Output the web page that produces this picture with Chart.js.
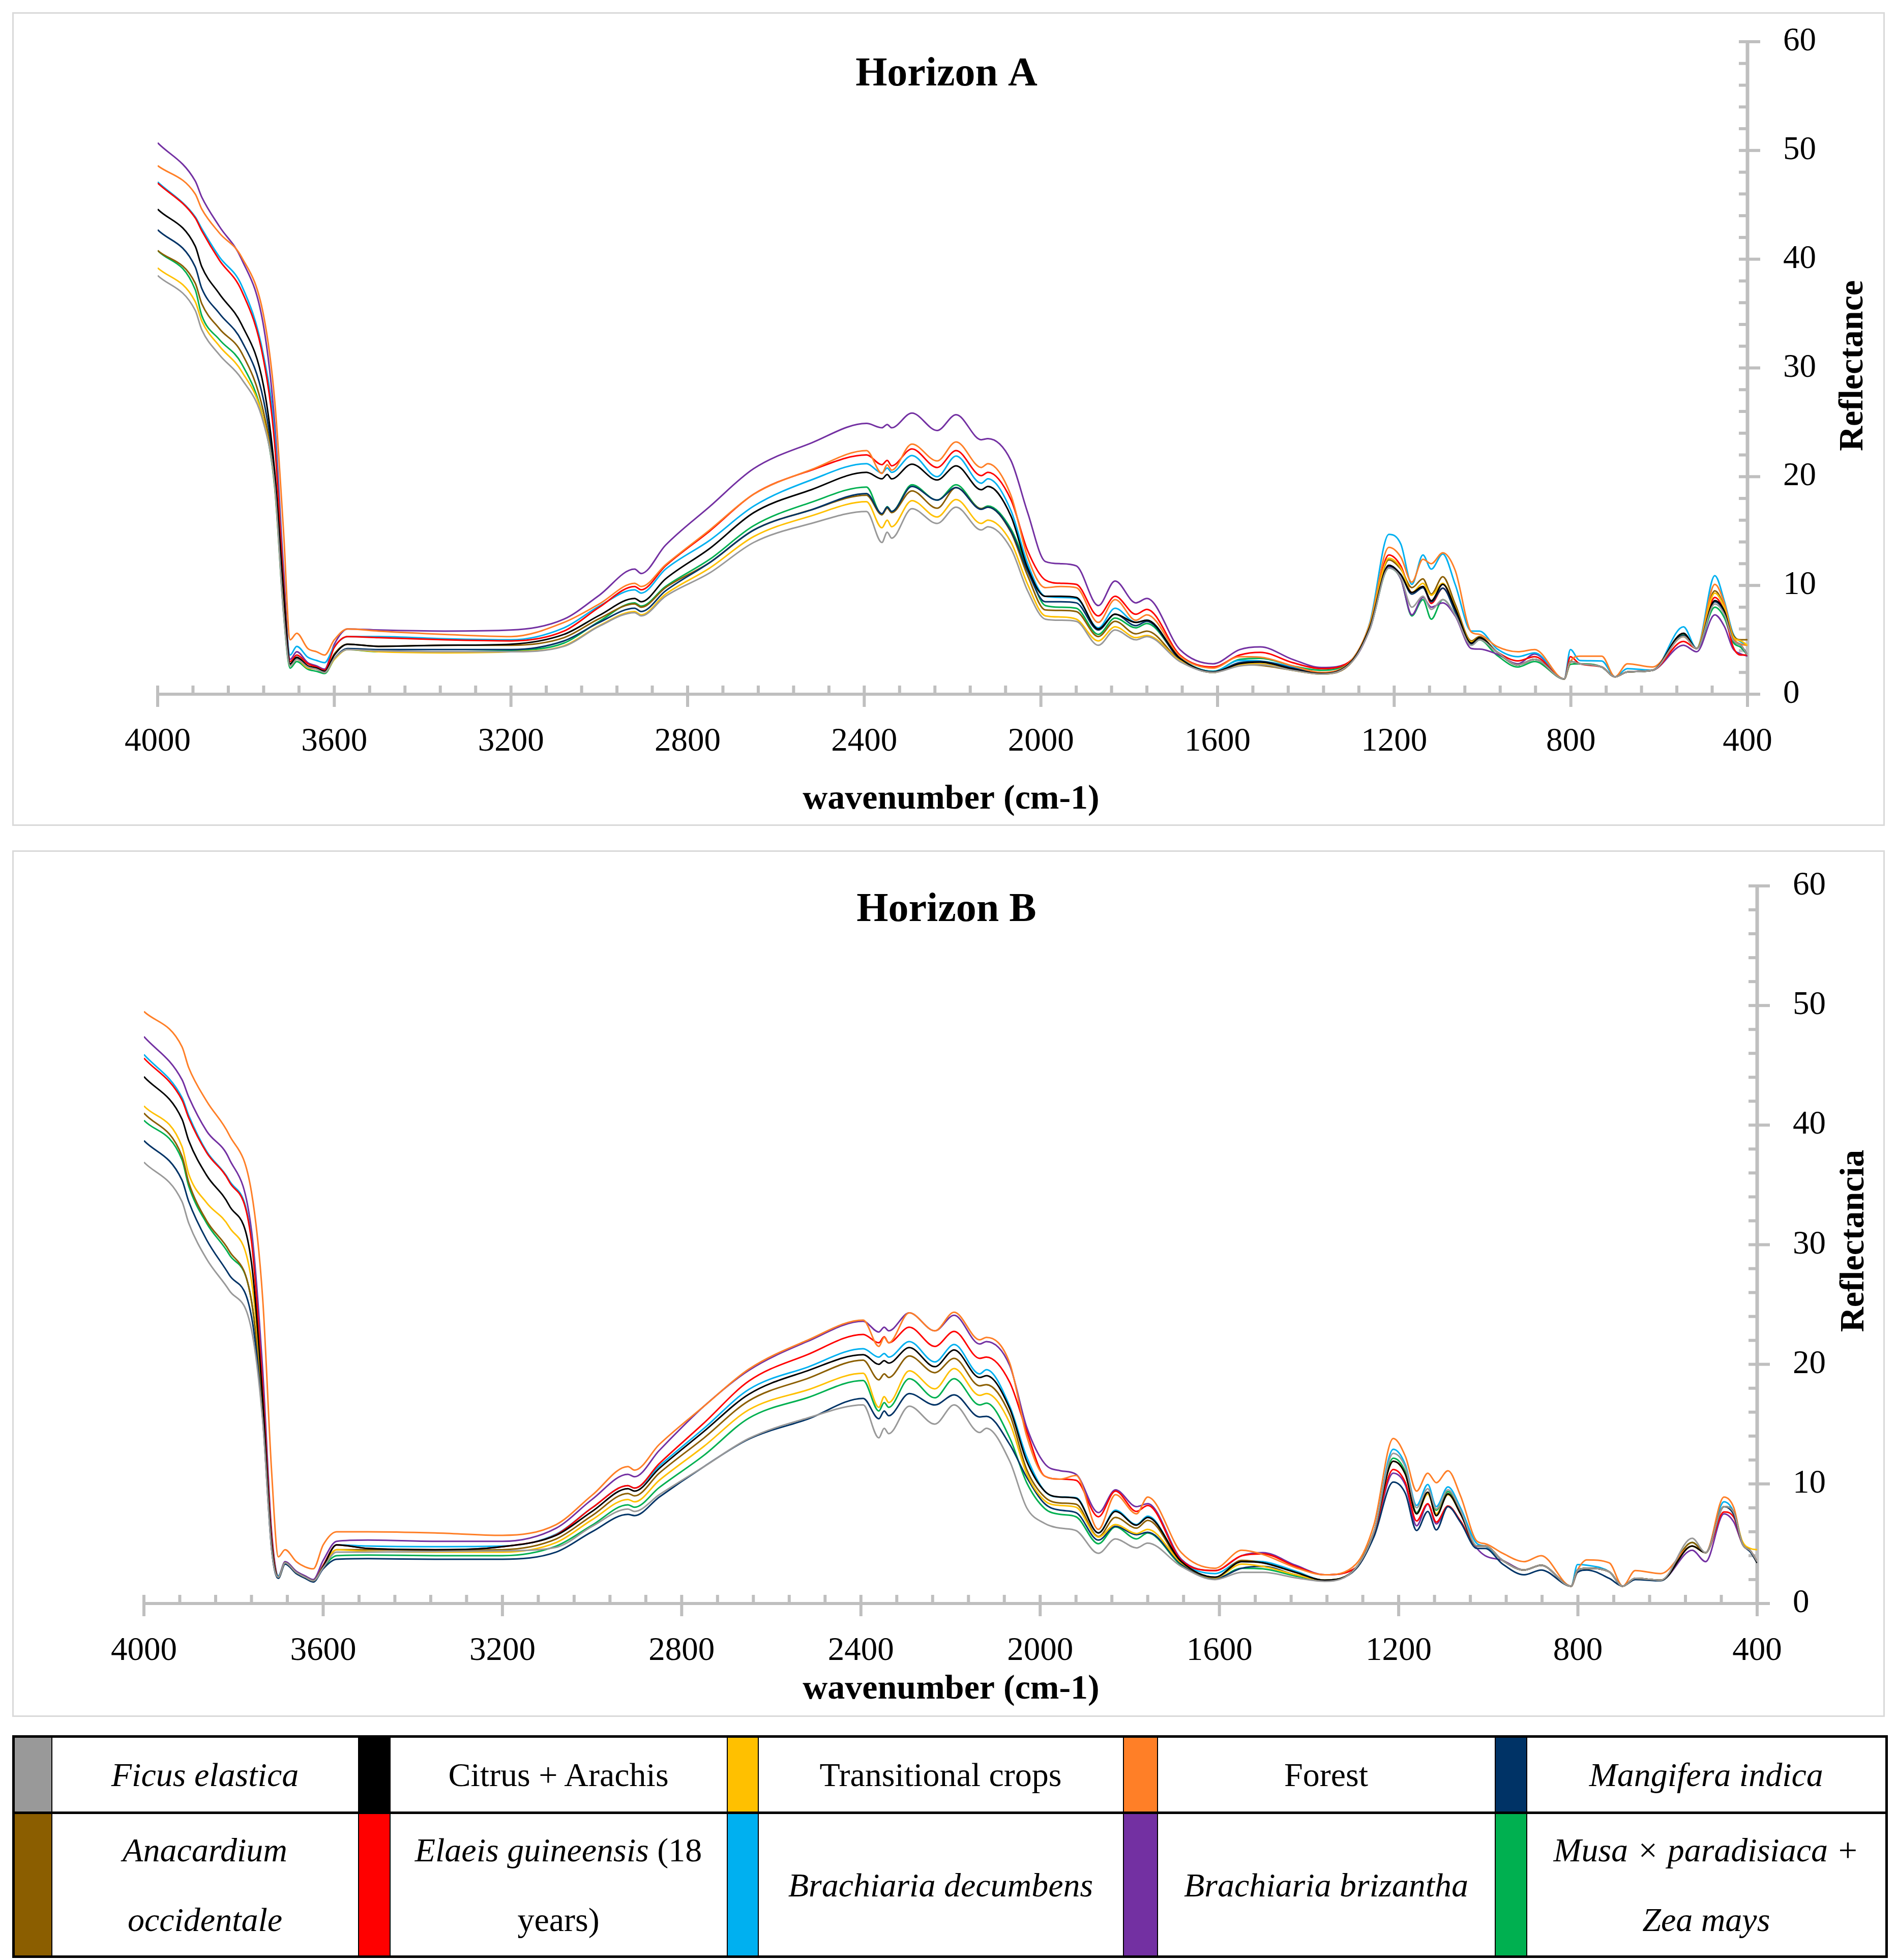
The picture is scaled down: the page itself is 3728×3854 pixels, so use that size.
<!DOCTYPE html>
<html>
<head>
<meta charset="utf-8">
<script src="https://cdn.jsdelivr.net/npm/chart.js@4.4.1/dist/chart.umd.min.js"></script>
<style>
  html, body { margin: 0; padding: 0; background: #fff; }
  body { width: 3728px; height: 3854px; position: relative; overflow: hidden; font-family: "Liberation Serif", serif; }
  .panel { position: absolute; left: 24px; width: 3682px; border: 3px solid #d9d9d9; box-sizing: border-box; background: #fff; }
  #panelA { top: 24px; height: 1600px; }
  #panelB { top: 1672px; height: 1704px; }
  .panel canvas { display: block; }
  #legend { position: absolute; left: 24px; top: 3412px; width: 3683px; border-collapse: collapse; table-layout: fixed; border: 5px solid #000; }
  #legend td { border: 2px solid #000; padding: 0; text-align: center; font-size: 66px; color: #000; }
  #legend tr.r1 { height: 150px; }
  #legend tr.r2 { height: 283px; }
  #legend tr.r2 td { line-height: 137px; }
  #legend tr.r1 { border-bottom: 5px solid #000; }
</style>
</head>
<body>
<div class="panel" id="panelA"><canvas id="chartA" width="3676" height="1594"></canvas></div>
<div class="panel" id="panelB"><canvas id="chartB" width="3676" height="1698"></canvas></div>
<table id="legend"></table>
<script>
// wavenumber (cm-1), shared by both horizons
const wavenumber = [
  4000, 3915, 3900, 3860, 3810, 3760, 3735, 3715, 3700, 3685,
  3660, 3640, 3622, 3600, 3570, 3500, 3350, 3200, 3080, 3000,
  2920, 2905, 2850, 2750, 2650, 2520, 2395, 2360, 2348, 2338,
  2292, 2235, 2192, 2135, 2120, 2068, 2030, 1990, 1955, 1920,
  1870, 1832, 1785, 1760, 1685, 1610, 1550, 1503, 1430, 1365,
  1295, 1255, 1212, 1185, 1160, 1135, 1116, 1090, 1062, 1025,
  1007, 968, 920, 882, 815, 801, 780, 730, 700, 672,
  615, 545, 515, 474, 452, 433, 415, 400
];

const xTicks = [4000, 3600, 3200, 2800, 2400, 2000, 1600, 1200, 800, 400];
const yTicks = [0, 10, 20, 30, 40, 50, 60];

const seriesNames = ['Ficus elastica', 'Citrus + Arachis', 'Transitional crops', 'Forest', 'Mangifera indica',
  'Anacardium occidentale', 'Elaeis guineensis (18 years)', 'Brachiaria decumbens', 'Brachiaria brizantha', 'Musa × paradisiaca + Zea mays'];
const seriesColors = ['#999999', '#000000', '#ffc000', '#ff7f27', '#003366',
  '#8b5e00', '#ff0000', '#00b0f0', '#7330a2', '#00b050'];

// Horizon A reflectance
const ficusA = [
  38.5, 35.3, 33.5, 31.2, 29.0, 24.9, 19.2, 7.5, 2.6, 3.2,
  2.5, 2.3, 2.0, 3.3, 4.1, 4.0, 3.9, 3.9, 4.4, 6.25,
  7.5, 7.2, 9.0, 11.15, 13.96, 15.7, 16.8, 13.95, 14.9, 14.35,
  17.06, 15.7, 17.2, 15.1, 15.4, 13.4, 9.5, 6.9, 6.8, 6.7,
  4.5, 5.9, 5.0, 5.3, 3.0, 2.0, 2.6, 2.7, 2.2, 1.85,
  3.0, 6.0, 11.6, 10.7, 8.0, 9.0, 7.8, 8.7, 7.3, 4.5,
  5.0, 3.9, 2.7, 3.2, 1.4, 3.0, 2.8, 2.5, 1.6, 2.05,
  2.2, 5.3, 4.2, 8.3, 7.3, 5.0, 4.5, 3.6
];
const citrusA = [
  44.6, 41.2, 39.3, 36.8, 34.0, 28.3, 20.5, 9.5, 2.8, 3.4,
  2.6, 2.4, 2.1, 3.6, 4.6, 4.4, 4.5, 4.6, 5.5, 7.25,
  8.8, 8.5, 10.6, 13.4, 16.7, 18.8, 20.4, 19.8, 20.2, 19.8,
  21.15, 19.7, 21.0, 18.8, 19.1, 16.4, 11.6, 9.0, 9.0, 8.9,
  6.0, 7.35, 6.6, 6.8, 3.3, 2.05, 2.8, 2.95, 2.3, 1.9,
  3.1, 6.2, 11.85, 11.0, 9.35, 9.9, 8.6, 10.1, 7.9, 4.7,
  5.2, 3.9, 2.7, 3.2, 1.4, 3.0, 2.8, 2.5, 1.6, 2.05,
  2.2, 5.6, 4.2, 8.6, 7.6, 5.0, 4.5, 3.6
];
const transitionalA = [
  39.2, 36.1, 34.3, 32.0, 29.7, 25.2, 19.2, 7.8, 2.6, 3.2,
  2.4, 2.3, 2.0, 3.2, 4.1, 3.9, 3.8, 3.9, 4.45, 6.3,
  7.6, 7.3, 9.2, 11.6, 14.5, 16.4, 17.7, 15.3, 16.0, 15.4,
  17.8, 16.3, 17.9, 15.7, 16.0, 14.0, 10.1, 7.2, 7.1, 6.9,
  4.9, 6.2, 5.2, 5.4, 3.1, 2.0, 2.7, 2.8, 2.2, 1.85,
  3.1, 6.3, 12.5, 11.6, 9.35, 10.2, 9.1, 10.2, 8.0, 4.8,
  5.2, 3.9, 2.7, 3.2, 1.4, 3.0, 2.8, 2.5, 1.6, 2.05,
  2.2, 5.3, 4.2, 9.3, 7.9, 5.3, 4.9, 4.5
];
const forestA = [
  48.6, 46.0, 44.6, 42.4, 40.2, 34.8, 27.0, 15.0, 5.0, 5.6,
  4.2, 3.9, 3.6, 5.0, 6.0, 5.8, 5.5, 5.3, 6.6, 8.3,
  10.2, 9.9, 11.9, 15.1, 18.4, 20.65, 22.4, 20.3, 21.1, 20.6,
  23.0, 21.45, 23.2, 20.85, 21.2, 18.3, 12.6, 9.8, 9.9, 9.8,
  6.6, 8.7, 6.8, 7.3, 3.5, 2.4, 3.45, 3.4, 2.6, 2.0,
  3.2, 6.5, 13.5, 12.6, 10.3, 12.4, 12.0, 13.0, 11.4, 5.7,
  5.5, 4.4, 3.9, 4.1, 1.4, 3.0, 3.5, 3.5, 1.6, 2.8,
  2.5, 5.3, 4.2, 10.1, 8.3, 5.3, 4.6, 4.5
];
const mangiferaA = [
  42.7, 39.3, 37.3, 35.0, 32.5, 27.0, 20.0, 8.5, 2.7, 3.3,
  2.5, 2.3, 2.0, 3.3, 4.2, 4.1, 4.1, 4.1, 4.9, 6.6,
  7.9, 7.6, 9.5, 12.1, 15.1, 16.95, 18.45, 16.6, 17.2, 16.8,
  19.1, 17.85, 19.0, 17.0, 17.2, 15.0, 11.3, 8.5, 8.5, 8.4,
  5.9, 7.35, 6.3, 6.7, 3.2, 2.0, 2.9, 3.0, 2.4, 1.9,
  3.1, 6.2, 11.8, 11.0, 9.2, 9.8, 8.5, 9.75, 7.6, 4.6,
  5.1, 3.9, 2.7, 3.2, 1.4, 3.0, 2.8, 2.5, 1.6, 2.05,
  2.2, 5.4, 4.2, 8.5, 7.5, 5.0, 4.5, 3.6
];
const anacardiumA = [
  40.8, 37.8, 35.9, 33.6, 31.4, 25.9, 19.5, 8.5, 2.7, 3.3,
  2.5, 2.3, 2.0, 3.7, 4.6, 4.4, 4.5, 4.5, 5.2, 6.95,
  8.3, 8.0, 9.8, 12.1, 15.1, 16.95, 18.3, 16.5, 17.1, 16.7,
  18.7, 17.1, 19.0, 17.06, 17.2, 14.9, 10.9, 7.75, 7.7, 7.6,
  5.3, 6.7, 5.55, 5.8, 3.1, 2.0, 2.7, 2.65, 2.2, 1.85,
  3.0, 6.3, 12.35, 11.5, 9.8, 10.6, 9.2, 10.8, 8.3, 4.9,
  5.3, 3.9, 2.7, 3.2, 1.4, 3.0, 2.8, 2.5, 1.6, 2.05,
  2.2, 5.6, 4.2, 9.5, 8.0, 5.5, 5.0, 5.0
];
const elaeisA = [
  47.0, 43.8, 42.6, 39.9, 37.1, 30.7, 23.0, 10.3, 3.0, 3.6,
  2.8, 2.5, 2.2, 4.3, 5.3, 5.2, 5.0, 4.9, 5.8, 8.0,
  9.9, 9.6, 11.8, 15.0, 18.4, 20.6, 22.0, 21.1, 21.5, 21.0,
  22.55, 20.85, 22.4, 20.1, 20.4, 17.9, 13.2, 10.5, 10.2, 10.1,
  7.2, 9.0, 7.35, 7.8, 3.6, 2.5, 3.6, 3.85, 2.9, 2.35,
  3.2, 6.3, 12.8, 11.8, 9.35, 9.9, 8.35, 9.75, 7.7, 4.6,
  5.1, 3.9, 3.06, 3.45, 1.4, 3.45, 2.8, 2.5, 1.6, 2.05,
  2.2, 4.85, 4.2, 8.9, 7.5, 4.4, 3.6, 3.6
];
const decumbensA = [
  47.1, 43.9, 42.8, 40.2, 37.6, 31.1, 23.9, 10.5, 3.6, 4.4,
  3.4, 3.1, 2.9, 4.4, 5.3, 5.3, 5.1, 5.0, 6.1, 8.1,
  9.6, 9.3, 11.5, 14.15, 17.3, 19.7, 21.2, 20.35, 20.8, 20.4,
  21.95, 20.0, 21.9, 19.4, 19.8, 16.9, 12.0, 9.0, 8.9, 8.8,
  6.1, 7.9, 6.6, 6.8, 3.3, 2.1, 3.1, 3.05, 2.5, 1.95,
  3.2, 6.6, 14.7, 13.8, 10.1, 12.8, 11.5, 12.9, 10.1, 5.8,
  5.8, 4.2, 3.45, 3.8, 1.4, 4.1, 3.1, 3.05, 1.6, 2.35,
  2.2, 6.2, 4.2, 10.9, 8.5, 5.6, 4.8, 4.5
];
const brizanthaA = [
  50.7, 47.2, 45.7, 43.0, 40.0, 33.8, 24.9, 11.5, 3.2, 3.9,
  2.9, 2.6, 2.3, 4.6, 6.0, 5.9, 5.8, 5.9, 6.9, 9.1,
  11.5, 11.1, 13.7, 17.25, 20.75, 23.1, 24.9, 24.5, 24.8, 24.5,
  25.85, 24.25, 25.7, 23.4, 23.5, 21.5, 16.7, 12.2, 12.0, 11.8,
  8.15, 10.4, 8.4, 8.8, 4.1, 2.8, 4.1, 4.35, 3.2, 2.45,
  3.1, 6.0, 11.7, 10.6, 7.3, 8.9, 8.0, 8.4, 7.2, 4.2,
  4.15, 3.7, 2.8, 3.7, 1.4, 3.0, 2.8, 2.5, 1.6, 2.05,
  2.2, 4.5, 3.9, 7.3, 6.2, 4.2, 3.7, 3.5
];
const musaA = [
  40.8, 37.2, 34.8, 32.6, 30.4, 25.2, 19.0, 7.5, 2.4, 3.0,
  2.3, 2.1, 1.9, 3.2, 4.1, 3.9, 3.9, 4.0, 4.7, 6.7,
  8.4, 8.1, 9.9, 12.4, 15.5, 17.65, 19.05, 16.5, 17.25, 16.8,
  19.25, 17.85, 19.25, 17.06, 17.3, 15.2, 11.6, 8.15, 8.0, 7.9,
  5.5, 7.0, 6.1, 6.5, 3.3, 2.1, 3.2, 3.3, 2.6, 2.2,
  3.2, 6.0, 11.6, 10.6, 7.2, 8.7, 6.9, 8.7, 7.3, 4.5,
  5.0, 3.6, 2.5, 3.0, 1.4, 2.75, 2.8, 2.5, 1.6, 2.05,
  2.2, 5.5, 4.2, 8.0, 7.0, 4.8, 4.3, 3.6
];

// Horizon B reflectance
const ficusB = [
  36.9, 33.6, 31.8, 28.8, 26.2, 22.9, 15.3, 4.5, 2.2, 3.4,
  2.6, 2.2, 1.9, 3.0, 4.3, 4.3, 4.35, 4.4, 4.7, 6.45,
  7.9, 7.7, 9.1, 11.45, 13.8, 15.5, 16.6, 13.85, 14.65, 14.2,
  16.5, 15.0, 16.6, 14.3, 14.65, 11.9, 8.0, 6.7, 6.3, 6.1,
  4.2, 5.4, 4.65, 5.05, 3.1, 2.0, 2.6, 2.6, 2.15, 1.85,
  3.0, 6.0, 12.55, 11.4, 8.0, 9.6, 7.9, 9.5, 7.8, 4.8,
  4.8, 3.6, 2.8, 3.2, 1.45, 2.8, 2.95, 2.65, 1.45, 2.1,
  1.95, 5.45, 4.25, 8.1, 7.6, 5.0, 4.4, 3.5
];
const citrusB = [
  44.05, 40.5, 38.7, 35.8, 33.3, 28.5, 17.0, 5.0, 2.2, 3.4,
  2.6, 2.2, 1.9, 3.1, 4.9, 4.6, 4.5, 4.75, 5.7, 7.7,
  9.6, 9.4, 11.3, 14.4, 17.5, 19.45, 20.8, 20.0, 20.3, 20.1,
  21.4, 19.8, 21.2, 18.9, 19.05, 16.3, 11.9, 9.4, 8.9, 8.8,
  5.9, 7.7, 6.55, 7.2, 3.5, 2.2, 3.5, 3.4, 2.6, 1.95,
  3.0, 6.0, 11.9, 10.8, 7.5, 9.3, 7.35, 9.15, 7.5, 4.8,
  4.8, 3.6, 2.8, 3.2, 1.45, 2.8, 2.95, 2.65, 1.45, 2.1,
  1.95, 4.8, 4.25, 8.1, 7.6, 5.0, 4.4, 3.4
];
const transitionalB = [
  41.6, 38.2, 35.9, 33.5, 31.5, 27.0, 16.8, 5.0, 2.2, 3.4,
  2.6, 2.2, 1.9, 3.1, 4.5, 4.35, 4.3, 4.3, 5.1, 7.0,
  8.7, 8.5, 10.3, 13.15, 16.2, 17.85, 19.25, 16.4, 17.3, 16.8,
  19.45, 17.95, 19.65, 17.4, 17.55, 15.1, 10.85, 8.6, 8.2, 8.05,
  5.55, 6.6, 5.85, 6.2, 3.4, 2.15, 3.3, 3.1, 2.4, 1.95,
  3.0, 6.0, 11.9, 10.8, 7.5, 9.15, 7.5, 9.1, 7.5, 4.8,
  4.8, 3.6, 2.8, 3.2, 1.45, 2.8, 2.95, 2.65, 1.45, 2.1,
  1.95, 4.8, 4.25, 8.1, 7.6, 5.2, 4.6, 4.5
];
const forestB = [
  49.5, 46.55, 44.8, 42.0, 39.2, 34.4, 25.5, 11.0, 3.9, 4.5,
  3.5, 3.06, 2.9, 4.9, 6.0, 6.0, 5.9, 5.7, 6.6, 9.05,
  11.45, 11.15, 13.3, 16.5, 19.6, 22.0, 23.7, 21.5, 22.25, 21.8,
  24.3, 22.8, 24.35, 22.05, 22.25, 20.1, 14.0, 10.65, 10.4, 10.7,
  6.2, 9.1, 7.5, 8.9, 4.25, 2.95, 4.45, 4.1, 3.0, 2.4,
  3.3, 6.6, 13.8, 12.3, 9.4, 10.9, 10.1, 11.1, 9.0, 5.2,
  5.0, 4.2, 3.5, 4.0, 1.45, 2.8, 3.65, 3.4, 1.45, 2.75,
  2.5, 4.8, 4.25, 8.9, 8.0, 5.0, 4.4, 3.5
];
const mangiferaB = [
  38.7, 35.4, 33.6, 30.4, 27.5, 24.0, 15.5, 4.5, 2.1, 3.3,
  2.5, 2.1, 1.8, 2.9, 3.7, 3.75, 3.7, 3.7, 4.3, 6.0,
  7.45, 7.35, 8.9, 11.45, 13.75, 15.4, 17.15, 15.45, 16.1, 15.7,
  17.55, 16.6, 17.45, 15.6, 15.65, 13.3, 10.55, 8.35, 7.8, 7.6,
  5.3, 6.45, 5.75, 5.95, 3.3, 2.1, 2.95, 3.1, 2.4, 1.95,
  2.9, 5.6, 10.15, 9.2, 6.1, 7.7, 6.15, 8.1, 6.8, 4.6,
  4.6, 3.3, 2.4, 2.8, 1.45, 2.6, 2.8, 2.1, 1.45, 2.0,
  1.9, 4.8, 4.25, 8.1, 7.4, 5.0, 4.3, 3.4
];
const anacardiumB = [
  41.0, 37.4, 35.2, 32.0, 29.5, 25.3, 16.2, 4.8, 2.2, 3.4,
  2.6, 2.2, 1.9, 3.1, 4.5, 4.5, 4.45, 4.5, 5.4, 7.35,
  9.2, 9.0, 10.9, 13.85, 16.95, 18.8, 20.35, 18.7, 19.2, 18.9,
  20.7, 19.3, 20.5, 18.2, 18.3, 15.8, 11.2, 8.9, 8.4, 8.3,
  5.6, 7.2, 6.3, 6.95, 3.4, 2.2, 3.6, 3.4, 2.6, 1.95,
  3.0, 6.0, 11.9, 10.8, 7.5, 9.3, 7.35, 9.2, 7.6, 4.8,
  4.8, 3.6, 2.8, 3.2, 1.45, 2.8, 2.95, 2.65, 1.45, 2.1,
  1.95, 5.1, 4.25, 8.1, 7.6, 5.0, 4.4, 3.5
];
const elaeisB = [
  45.6, 42.1, 40.6, 37.7, 35.3, 30.3, 18.0, 5.5, 2.2, 3.4,
  2.6, 2.2, 1.9, 3.2, 4.9, 4.6, 4.5, 4.75, 5.75, 8.0,
  9.85, 9.65, 11.7, 15.1, 18.6, 20.8, 22.5, 21.8, 22.3, 21.8,
  23.1, 21.5, 22.75, 20.5, 20.6, 18.5, 14.4, 10.65, 10.4, 10.3,
  7.25, 9.4, 7.7, 8.2, 3.6, 2.75, 4.0, 4.15, 3.1, 2.4,
  3.0, 5.9, 11.2, 10.1, 6.9, 8.35, 6.8, 8.15, 6.9, 4.8,
  4.8, 3.6, 2.8, 3.2, 1.45, 2.8, 2.95, 2.65, 1.45, 2.1,
  1.95, 4.8, 4.25, 7.65, 7.2, 5.0, 4.4, 3.5
];
const decumbensB = [
  45.9, 42.3, 40.8, 37.8, 35.4, 30.5, 18.0, 5.5, 2.3, 3.4,
  2.6, 2.2, 1.9, 3.2, 4.9, 4.8, 4.75, 4.8, 5.8, 8.0,
  9.85, 9.65, 11.5, 14.65, 17.9, 19.75, 21.3, 20.6, 20.9, 20.6,
  21.9, 20.2, 21.65, 19.2, 19.55, 16.5, 12.25, 9.4, 8.9, 8.85,
  5.9, 7.8, 6.6, 7.3, 3.5, 2.5, 3.55, 3.5, 2.7, 1.95,
  3.0, 6.0, 12.9, 11.6, 8.2, 9.95, 8.1, 9.75, 8.0, 5.0,
  4.8, 3.6, 2.8, 3.2, 1.45, 3.25, 3.2, 2.65, 1.45, 2.1,
  1.95, 4.8, 4.25, 8.5, 7.6, 5.0, 4.4, 3.5
];
const brizanthaB = [
  47.4, 43.8, 42.35, 39.5, 37.2, 31.2, 19.5, 6.0, 2.3, 3.5,
  2.7, 2.3, 2.0, 3.6, 5.2, 5.3, 5.2, 5.2, 6.3, 8.7,
  10.8, 10.6, 12.8, 16.5, 19.5, 21.9, 23.6, 22.7, 23.1, 22.8,
  24.3, 22.8, 24.1, 21.7, 21.9, 19.9, 14.75, 11.7, 11.1, 10.8,
  7.6, 9.5, 8.1, 8.35, 3.7, 2.75, 4.0, 4.25, 3.2, 2.4,
  3.0, 5.8, 10.9, 9.9, 6.5, 8.3, 6.65, 8.1, 6.8, 4.6,
  4.0, 3.6, 2.8, 3.2, 1.45, 2.8, 2.95, 2.65, 1.45, 2.1,
  1.95, 4.45, 3.5, 7.5, 6.8, 5.0, 4.4, 3.5
];
const musaB = [
  40.4, 37.1, 34.9, 31.8, 29.2, 25.3, 16.0, 4.6, 2.2, 3.4,
  2.6, 2.2, 1.9, 3.0, 4.0, 4.05, 4.0, 4.0, 4.8, 6.55,
  8.25, 8.05, 9.7, 12.4, 15.5, 17.2, 18.65, 16.1, 16.8, 16.4,
  18.8, 17.2, 18.8, 16.6, 16.75, 13.85, 10.1, 7.95, 7.45, 7.25,
  5.0, 6.4, 5.4, 5.9, 3.2, 2.05, 2.95, 2.9, 2.3, 1.95,
  3.0, 6.0, 12.15, 11.0, 7.6, 9.3, 7.8, 9.35, 7.8, 4.8,
  4.8, 3.6, 2.8, 3.2, 1.45, 2.8, 2.95, 2.65, 1.45, 2.1,
  1.95, 5.1, 4.25, 8.1, 7.6, 5.0, 4.4, 3.5
];

const horizonA = [ficusA, citrusA, transitionalA, forestA, mangiferaA, anacardiumA, elaeisA, decumbensA, brizanthaA, musaA];
const horizonB = [ficusB, citrusB, transitionalB, forestB, mangiferaB, anacardiumB, elaeisB, decumbensB, brizanthaB, musaB];

const GRID = '#bfbfbf';
const FONT = '"Liberation Serif", serif';

// axes, ticks and titles drawn Excel-style through the chart's own scales
const axesPlugin = {
  id: 'axes',
  beforeDatasetsDraw(chart) {
    const { ctx, scales: { x, y } } = chart;
    const x0 = x.getPixelForValue(xTicks[0]);
    const x1 = x.getPixelForValue(xTicks[xTicks.length - 1]);
    const y0 = y.getPixelForValue(yTicks[0]);
    const y1 = y.getPixelForValue(yTicks[yTicks.length - 1]);
    ctx.save();
    ctx.fillStyle = GRID;
    ctx.fillRect(x0 - 3, y0 - 3, x1 - x0 + 6, 6);
    for (let w = xTicks[0]; w >= xTicks[xTicks.length - 1]; w -= 80) {
      const px = x.getPixelForValue(w);
      const major = w % 400 === 0;
      ctx.fillRect(px - 3, y0 - 17, 6, major ? 42 : 17);
    }
    ctx.fillRect(x1 - 3.5, y1 - 3, 7, y0 - y1 + 3);
    for (let v = yTicks[0]; v <= yTicks[yTicks.length - 1]; v += 2) {
      const py = y.getPixelForValue(v);
      const major = v % 10 === 0;
      ctx.fillRect(x1 - 17, py - 3, major ? 42 : 17, 6);
    }
    ctx.restore();
  },
  afterDraw(chart, args, opts) {
    const { ctx, scales: { x, y } } = chart;
    const y0 = y.getPixelForValue(0);
    const x1 = x.getPixelForValue(400);
    ctx.save();
    ctx.fillStyle = '#000';
    ctx.textBaseline = 'middle';
    ctx.font = '65px ' + FONT;
    ctx.textAlign = 'center';
    xTicks.forEach(w => ctx.fillText(String(w), x.getPixelForValue(w), y0 + opts.xLabelGap));
    ctx.textAlign = 'left';
    yTicks.forEach(v => ctx.fillText(String(v), x1 + 70, y.getPixelForValue(v)));
    ctx.textAlign = 'center';
    ctx.font = 'bold 68px ' + FONT;
    ctx.fillText('wavenumber (cm-1)', opts.xTitleX, y0 + opts.xTitleGap);
    ctx.font = 'bold 80px ' + FONT;
    ctx.fillText(opts.title, opts.titleX, opts.titleY);
    ctx.font = 'bold 68px ' + FONT;
    ctx.translate(opts.yTitleX, opts.yTitleY);
    ctx.rotate(-Math.PI / 2);
    ctx.fillText(opts.yTitle, 0, 0);
    ctx.restore();
  }
};

function makeChart(id, values, pad, axisOpts) {
  return new Chart(document.getElementById(id), {
    type: 'line',
    data: {
      datasets: values.map((vals, s) => ({
        label: seriesNames[s],
        data: wavenumber.map((w, i) => ({ x: w, y: vals[i] })),
        borderColor: seriesColors[s],
        borderWidth: 3,
        pointRadius: 0,
        cubicInterpolationMode: 'monotone',
        fill: false
      }))
    },
    options: {
      responsive: false,
      animation: false,
      devicePixelRatio: 1,
      layout: { padding: pad },
      plugins: { legend: { display: false }, tooltip: { enabled: false }, axes: axisOpts },
      scales: {
        x: { type: 'linear', reverse: true, min: 400, max: 4000, display: false },
        y: { type: 'linear', min: 0, max: 60, display: false }
      }
    },
    plugins: [axesPlugin]
  });
}

makeChart('chartA', horizonA, { left: 283, right: 267, top: 55, bottom: 256 }, {
  title: 'Horizon A', titleX: 1834, titleY: 120,
  yTitle: 'Reflectance', yTitleX: 3617, yTitleY: 692,
  xTitleX: 1843, xLabelGap: 94, xTitleGap: 207
});
makeChart('chartB', horizonB, { left: 256, right: 248, top: 67, bottom: 220 }, {
  title: 'Horizon B', titleX: 1834, titleY: 115,
  yTitle: 'Reflectancia', yTitleX: 3619, yTitleY: 765,
  xTitleX: 1843, xLabelGap: 94, xTitleGap: 169
});

// legend table below the charts
const legendRows = [
  [[0, '<i>Ficus elastica</i>'], [1, 'Citrus + Arachis'], [2, 'Transitional crops'], [3, 'Forest'], [4, '<i>Mangifera indica</i>']],
  [[5, '<i>Anacardium<br>occidentale</i>'], [6, '<i>Elaeis guineensis</i> (18<br>years)'], [7, '<i>Brachiaria decumbens</i>'],
   [8, '<i>Brachiaria brizantha</i>'], [9, '<i>Musa × paradisiaca +<br>Zea mays</i>']]
];
const colWidths = [75, 603, 62, 663, 61, 718, 67, 664, 62, 708];
const table = document.getElementById('legend');
let html = '<colgroup>' + colWidths.map(w => `<col style="width:${w}px">`).join('') + '</colgroup>';
legendRows.forEach((row, r) => {
  html += `<tr class="r${r + 1}">`;
  row.forEach(([s, label]) => {
    html += `<td style="background:${seriesColors[s]}"></td><td>${label}</td>`;
  });
  html += '</tr>';
});
table.innerHTML = html;
</script>
</body>
</html>
